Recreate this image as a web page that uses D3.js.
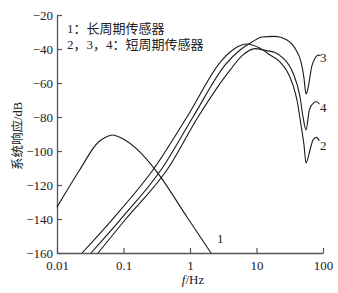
<!DOCTYPE html>
<html><head><meta charset="utf-8">
<script src="https://cdn.jsdelivr.net/npm/d3@7"></script>
<style>
html,body{margin:0;padding:0;background:#fff;}
svg{display:block;}
text{font-family:"Liberation Serif","Noto Sans CJK SC",serif;fill:#222;}
</style></head>
<body>
<svg id="chart" width="338" height="293"></svg>
<script>
// ---- data ----
const xTicks = [0.01, 0.1, 1, 10, 100];
const xTickLabels = ["0.01", "0.1", "1", "10", "100"];
const yTicks = [-20, -40, -60, -80, -100, -120, -140, -160];

// curve 1: long-period sensor
const freq1 = [0.01, 0.022, 0.042, 0.055, 0.067, 0.105, 0.177, 0.32, 0.9, 2.07];
const resp1 = [-133, -111, -94.7, -91.8, -90.6, -93.5, -100.6, -112.4, -138.8, -160];

// curve 2: short-period sensor
const freq2 = [0.0238, 0.0665, 0.298, 0.90, 3.03, 4.59, 7.19, 10.9, 15.96, 22.5, 28.7, 35.4, 40.6, 46.7, 51.8, 55.5, 63.8, 70.8, 79.9, 88];
const resp2 = [-160, -140.6, -109.4, -80, -46.5, -40, -37.1, -39.3, -43.5, -47.6, -52.9, -61.2, -70, -84.7, -96.5, -107, -99.4, -93.5, -92, -94];

// curve 3: short-period sensor
const freq3 = [0.0324, 0.0885, 0.393, 1.11, 3.48, 5.65, 8.55, 12.1, 19.0, 28.7, 39.3, 46.7, 51.8, 55.5, 60.1, 67.6, 75.8, 85, 92];
const resp3 = [-160, -140.6, -109.4, -80, -48.8, -40.6, -35.9, -32.9, -32.6, -34.7, -40.6, -47.6, -57.1, -66.5, -62.2, -50.4, -45.5, -43.5, -44];

// curve 4: short-period sensor
const freq4 = [0.0414, 0.105, 0.483, 1.32, 4.0, 6.27, 9.48, 13.4, 19.0, 25, 35.4, 45.1, 50, 55.5, 62.2, 71.5, 80.4, 88];
const resp4 = [-160, -140.6, -109.4, -80, -52.4, -43.5, -39.8, -40.8, -42.1, -45.3, -54.1, -68.1, -79.8, -87.6, -75.9, -71.8, -71, -72.5];

const curveLabels = ["1", "3", "4", "2"];
const curveLabelF = [2.55, 90.2, 90.2, 90.2];
const curveLabelDb = [-154, -47.6, -77, -99.4];

const legendLines = ["1：长周期传感器", "2，3，4：短周期传感器"];

// ---- drawing ----
const svg = d3.select("#chart");
const x = d3.scaleLog().domain([0.01, 100]).range([57, 323]);
const y = d3.scaleLinear().domain([-160, -20]).range([253, 15]);

const axisColor = "#555";

const yAxis = svg.append("g").attr("transform", "translate(57,0)")
  .call(d3.axisLeft(y).tickValues(yTicks).tickSizeInner(-5).tickSizeOuter(0).tickPadding(4)
    .tickFormat(d => String(d).replace("-", "\u2212")));
const xAxis = svg.append("g").attr("transform", "translate(0,253)")
  .call(d3.axisBottom(x).tickValues(xTicks).tickSizeInner(-5).tickSizeOuter(0).tickPadding(8)
    .tickFormat((d, i) => xTickLabels[i]));

[yAxis, xAxis].forEach(g => {
  g.select(".domain").attr("stroke", axisColor).attr("stroke-width", 1.3);
  g.selectAll(".tick line").attr("stroke", axisColor).attr("stroke-width", 1.2);
  g.selectAll(".tick text").attr("font-size", 13).attr("fill", "#222")
    .attr("font-family", "'Liberation Serif', serif");
});

const line = d3.line().x(d => x(d[0])).y(d => y(d[1])).curve(d3.curveMonotoneX);
const series = [[freq1, resp1], [freq2, resp2], [freq3, resp3], [freq4, resp4]];
series.forEach(([f, r]) => {
  svg.append("path")
    .datum(f.map((v, i) => [v, r[i]]))
    .attr("d", line)
    .attr("fill", "none")
    .attr("stroke", "#1a1a1a")
    .attr("stroke-width", 1.1);
});

curveLabels.forEach((t, i) => {
  svg.append("text").attr("x", x(curveLabelF[i])).attr("y", y(curveLabelDb[i]))
    .attr("font-size", 13).text(t);
});

legendLines.forEach((t, i) => {
  svg.append("text").attr("x", 67).attr("y", 33 + i * 16)
    .attr("font-size", 13).text(t);
});

// axis titles
const xt = svg.append("text").attr("x", 193).attr("y", 284).attr("text-anchor", "middle").attr("font-size", 13);
xt.append("tspan").attr("font-style", "italic").text("f");
xt.append("tspan").text("/Hz");

svg.append("text")
  .attr("transform", "translate(22,136) rotate(-90)")
  .attr("text-anchor", "middle")
  .attr("font-size", 12.5)
  .text("系统响应/dB");
</script>
</body></html>
